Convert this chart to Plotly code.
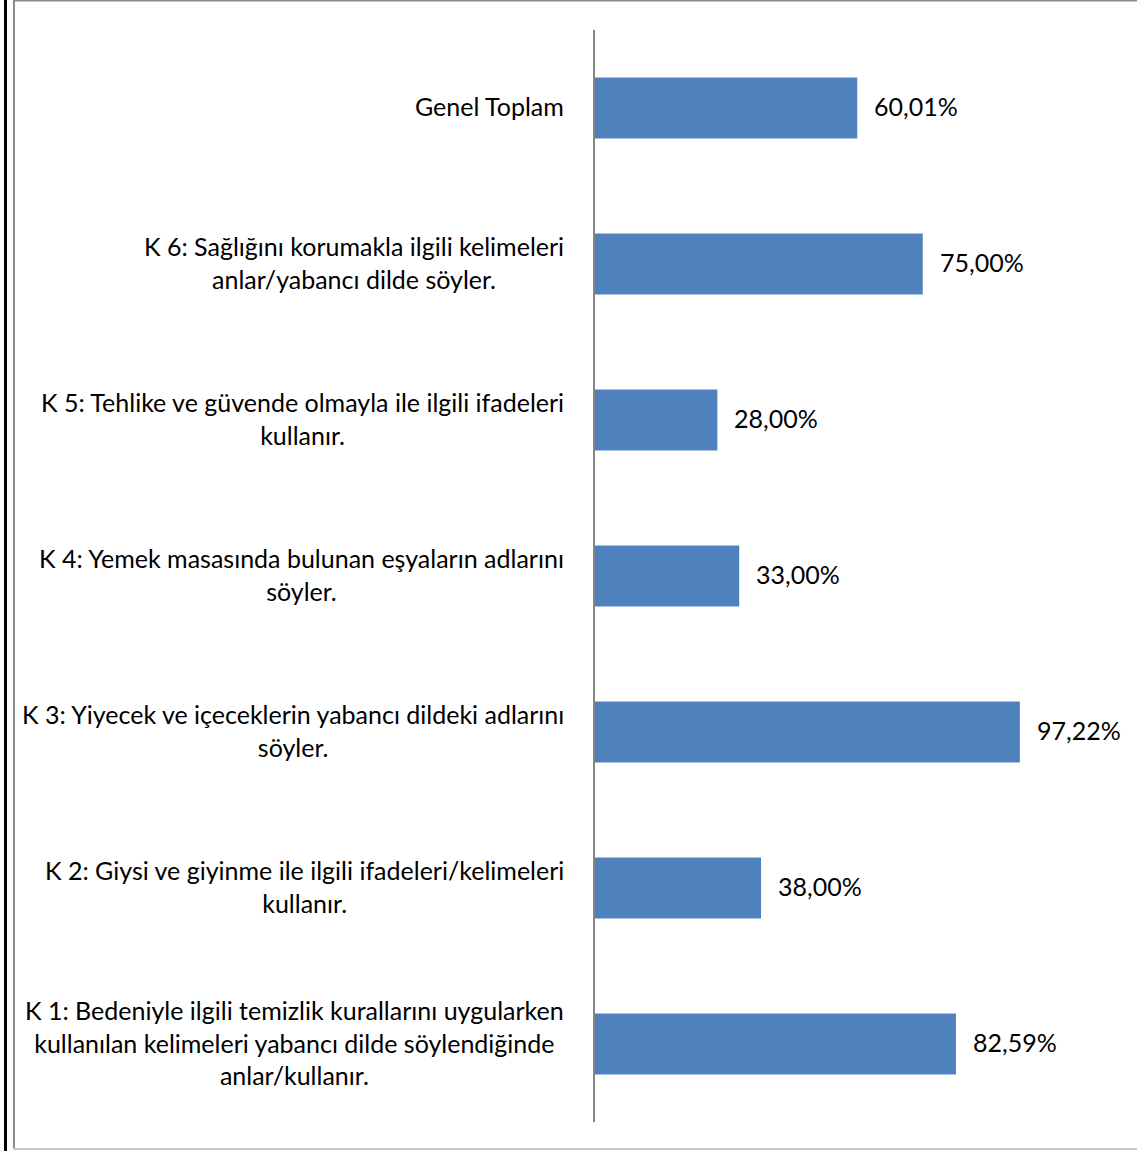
import plotly.graph_objects as go

# Criteria (bottom to top) and their success percentages
categories = [
    "K 1: Bedeniyle ilgili temizlik kurallarını uygularken<br>kullanılan kelimeleri yabancı dilde söylendiğinde<br>anlar/kullanır.",
    "K 2: Giysi ve giyinme ile ilgili ifadeleri/kelimeleri<br>kullanır.",
    "K 3: Yiyecek ve içeceklerin yabancı dildeki adlarını<br>söyler.",
    "K 4: Yemek masasında bulunan eşyaların adlarını<br>söyler.",
    "K 5: Tehlike ve güvende olmayla ile ilgili ifadeleri<br>kullanır.",
    "K 6: Sağlığını korumakla ilgili kelimeleri<br>anlar/yabancı dilde söyler.",
    "Genel Toplam",
]
values = [82.59, 38.00, 97.22, 33.00, 28.00, 75.00, 60.01]
value_labels = ["82,59%", "38,00%", "97,22%", "33,00%", "28,00%", "75,00%", "60,01%"]

W, H = 1137, 1151
M_L, M_R, M_T, M_B = 595, 105, 30, 29
plot_w = W - M_L - M_R
plot_h = H - M_T - M_B

BAR_COLOR = "#4F81BD"
FONT = dict(family="Lato, 'Open Sans', sans-serif", size=25, color="#000000")

ids = list(range(len(categories)))

fig = go.Figure(
    go.Bar(
        x=values,
        y=ids,
        orientation="h",
        marker=dict(color=BAR_COLOR, line=dict(width=0)),
        hoverinfo="skip",
    )
)

annotations = []
for i, (cat, v, lbl) in enumerate(zip(categories, values, value_labels)):
    # category text, centred block to the left of the axis
    annotations.append(dict(
        x=0, xref="paper", xanchor="right", xshift=-29,
        y=i, yref="y", yanchor="middle", yshift=2,
        text=cat, align="center", showarrow=False, font=FONT,
    ))
    # value label just past the end of the bar
    annotations.append(dict(
        x=v, xref="x", xanchor="left", xshift=15,
        y=i, yref="y", yanchor="middle", yshift=2,
        text=lbl, showarrow=False, font=FONT,
    ))


def px_x(px):
    return (px - M_L) / plot_w


def px_y(py):
    return (H - M_B - py) / plot_h


shapes = [
    # outer frame: black rule on the far left, grey rules around the page
    dict(type="line", xref="paper", yref="paper",
         x0=px_x(5.5), x1=px_x(5.5), y0=px_y(0), y1=px_y(H),
         line=dict(color="#000000", width=3)),
    dict(type="line", xref="paper", yref="paper",
         x0=px_x(14), x1=px_x(14), y0=px_y(0), y1=px_y(1150),
         line=dict(color="#8C8C8C", width=2)),
    dict(type="line", xref="paper", yref="paper",
         x0=px_x(13), x1=px_x(W), y0=px_y(0.5), y1=px_y(0.5),
         line=dict(color="#8C8C8C", width=2)),
    dict(type="line", xref="paper", yref="paper",
         x0=px_x(13), x1=px_x(W), y0=px_y(1149), y1=px_y(1149),
         line=dict(color="#C8C8C8", width=2)),
]

fig.update_layout(
    width=W, height=H,
    margin=dict(l=M_L, r=M_R, t=M_T, b=M_B, pad=0),
    paper_bgcolor="#FFFFFF", plot_bgcolor="#FFFFFF",
    bargap=0.61,
    showlegend=False,
    annotations=annotations,
    shapes=shapes,
    xaxis=dict(range=[0, 100], visible=False, fixedrange=True),
    yaxis=dict(
        range=[-0.5, len(categories) - 0.5],
        showticklabels=False, showgrid=False, zeroline=False,
        showline=True, linecolor="#868686", linewidth=1.5,
        ticks="", fixedrange=True,
    ),
)

fig.write_html("out.html")
